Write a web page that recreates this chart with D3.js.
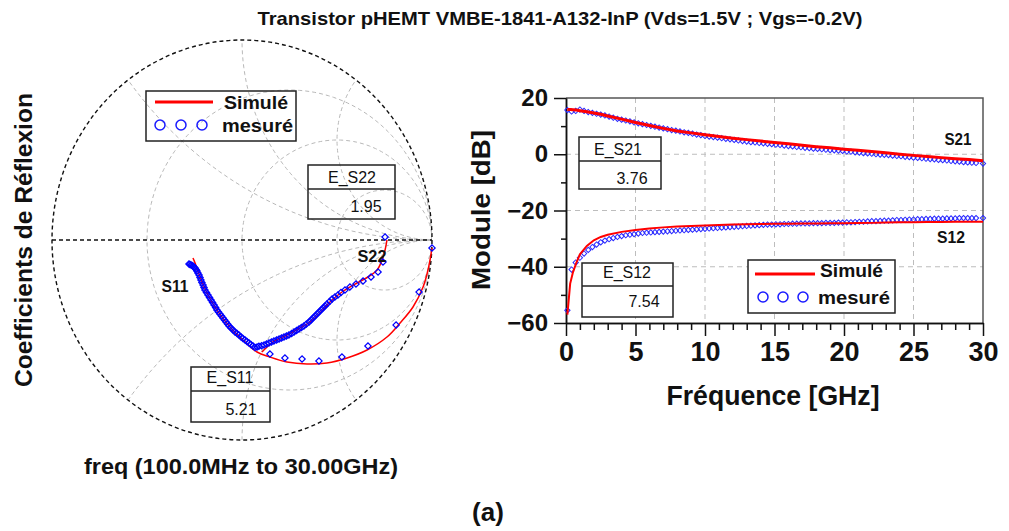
<!DOCTYPE html>
<html>
<head>
<meta charset="utf-8">
<script src="https://cdn.jsdelivr.net/npm/d3@7"></script>
<style>
  body { margin: 0; background: #fff; }
  text { font-family: "Liberation Sans", Arial, sans-serif; fill: #111; }
</style>
</head>
<body>
<svg id="chart" width="1009" height="531"></svg>
<script>
// ---------- data ----------
// Smith chart, reflection coefficients as [real, imag]
var s11Sim = [[1.0,-0.04],[0.979,-0.15],[0.953,-0.235],[0.9,-0.335],[0.832,-0.415],[0.763,-0.485],
  [0.658,-0.55],[0.553,-0.59],[0.447,-0.615],[0.342,-0.62],[0.237,-0.61],[0.147,-0.585],[0.079,-0.56],
  [0.005,-0.5],[-0.063,-0.435],[-0.132,-0.35],[-0.184,-0.265],[-0.221,-0.185],[-0.247,-0.115],[-0.258,-0.09]];
var s11Meas = [[1.0,-0.04],[0.932,-0.26],[0.811,-0.425],[0.663,-0.53],[0.526,-0.585],[0.405,-0.605],
  [0.316,-0.595],[0.226,-0.59],[0.147,-0.57],[0.058,-0.53],[0.047,-0.5225],[0.037,-0.515],[0.026,-0.5075],
  [0.016,-0.5],[0.005,-0.4925],[-0.005,-0.485],[-0.016,-0.475],[-0.026,-0.4675],[-0.037,-0.46],
  [-0.047,-0.45],[-0.058,-0.44],[-0.068,-0.43],[-0.076,-0.42],[-0.084,-0.41],[-0.092,-0.4],[-0.1,-0.39],
  [-0.108,-0.38],[-0.116,-0.37],[-0.124,-0.36],[-0.132,-0.35],[-0.139,-0.3375],[-0.147,-0.325],
  [-0.155,-0.3125],[-0.163,-0.3],[-0.171,-0.2875],[-0.179,-0.275],[-0.187,-0.2625],[-0.195,-0.25],
  [-0.2,-0.2375],[-0.205,-0.225],[-0.211,-0.2125],[-0.216,-0.2],[-0.221,-0.1875],[-0.226,-0.175],
  [-0.232,-0.165],[-0.237,-0.155],[-0.242,-0.1475],[-0.247,-0.14],[-0.253,-0.135],[-0.258,-0.13],
  [-0.263,-0.1275],[-0.268,-0.125],[-0.274,-0.1225],[-0.279,-0.12]];
var s22Sim = [[0.763,0.0],[0.753,-0.05],[0.737,-0.1],[0.711,-0.15],[0.663,-0.185],[0.605,-0.215],
  [0.526,-0.26],[0.463,-0.31],[0.411,-0.365],[0.358,-0.41],[0.305,-0.44],[0.237,-0.475],[0.163,-0.51],
  [0.132,-0.535],[0.105,-0.56]];
var s22Meas = [[0.753,0.015],[0.742,-0.11],[0.716,-0.16],[0.679,-0.185],[0.637,-0.205],[0.6,-0.22],
  [0.568,-0.235],[0.542,-0.25],[0.521,-0.2625],[0.505,-0.275],[0.489,-0.285],[0.474,-0.295],
  [0.461,-0.3075],[0.447,-0.32],[0.437,-0.33],[0.426,-0.34],[0.416,-0.35],[0.405,-0.36],[0.395,-0.37],
  [0.384,-0.38],[0.374,-0.39],[0.363,-0.4],[0.353,-0.41],[0.339,-0.42],[0.326,-0.43],[0.313,-0.4375],
  [0.3,-0.445],[0.287,-0.4525],[0.274,-0.46],[0.261,-0.4675],[0.247,-0.475],[0.234,-0.48],[0.221,-0.485],
  [0.208,-0.49],[0.195,-0.495],[0.182,-0.5],[0.168,-0.505],[0.155,-0.51],[0.142,-0.515],[0.129,-0.52],
  [0.116,-0.525],[0.103,-0.5285],[0.089,-0.5315],[0.079,-0.535],[0.068,-0.5375]];
var smithR = [1/3, 1, 3];
var smithX = [0.5, 1, 2, -0.5, -1, -2];

// module plot (GHz, dB)
var freqMeas = [0.1,0.4,0.7,1.0,1.3,1.6,1.9,2.2,2.5,2.8,3.1,3.4,3.7,4.0,4.3,4.6,4.9,5.2,5.5,5.8,
  6.1,6.4,6.7,7.0,7.3,7.6,7.9,8.2,8.5,8.8,9.1,9.4,9.7,10.0,10.3,10.6,10.9,11.2,11.5,11.8,
  12.1,12.4,12.7,13.0,13.3,13.6,13.9,14.2,14.5,14.8,15.1,15.4,15.7,16.0,16.3,16.6,16.9,17.2,17.5,17.8,
  18.1,18.4,18.7,19.0,19.3,19.6,19.9,20.2,20.5,20.8,21.1,21.4,21.7,22.0,22.3,22.6,22.9,23.2,23.5,23.8,
  24.1,24.4,24.7,25.0,25.3,25.6,25.9,26.2,26.5,26.8,27.1,27.4,27.7,28.0,28.3,28.6,28.9,29.2,29.5,30.0];
var s21Meas = [15.7,15.2,15.4,15.9,15.4,15.0,14.7,14.4,14.1,13.8,
  13.4,13.0,12.6,12.3,12.0,11.7,11.3,11.0,10.7,10.4,
  10.1,9.8,9.5,9.2,8.9,8.6,8.4,8.1,7.8,7.6,
  7.3,7.0,6.8,6.5,6.3,6.1,5.9,5.7,5.5,5.3,
  5.1,4.9,4.7,4.5,4.3,4.2,4.0,3.9,3.7,3.6,
  3.4,3.3,3.1,2.9,2.8,2.6,2.5,2.3,2.2,2.0,
  1.9,1.8,1.6,1.5,1.4,1.3,1.2,1.0,0.9,0.7,
  0.6,0.4,0.3,0.2,0.0,-0.1,-0.2,-0.3,-0.5,-0.6,
  -0.7,-0.9,-1.0,-1.2,-1.3,-1.4,-1.6,-1.7,-1.8,-2.0,
  -2.1,-2.2,-2.4,-2.5,-2.6,-2.8,-2.9,-3.0,-3.1,-3.3];
var s12Meas = [-55.5,-41.0,-38.5,-36.8,-35.3,-34.0,-33.0,-32.1,-31.3,-30.7,
  -30.2,-29.8,-29.4,-29.1,-28.8,-28.6,-28.4,-28.2,-28.0,-27.9,
  -27.8,-27.7,-27.6,-27.5,-27.4,-27.3,-27.2,-27.1,-27.0,-26.9,
  -26.8,-26.7,-26.6,-26.5,-26.4,-26.3,-26.2,-26.1,-26.0,-25.9,
  -25.8,-25.7,-25.6,-25.5,-25.4,-25.3,-25.2,-25.1,-25.0,-25.0,
  -24.9,-24.9,-24.8,-24.8,-24.7,-24.7,-24.6,-24.6,-24.6,-24.5,
  -24.5,-24.5,-24.4,-24.4,-24.4,-24.3,-24.3,-24.2,-24.2,-24.1,
  -24.0,-24.0,-23.9,-23.8,-23.8,-23.7,-23.6,-23.6,-23.5,-23.4,
  -23.4,-23.3,-23.2,-23.2,-23.1,-23.1,-23.0,-23.0,-22.9,-22.9,
  -22.9,-22.8,-22.8,-22.8,-22.7,-22.7,-22.7,-22.7,-22.7,-22.7];
var freqSim = [0.1,0.3,0.5,0.75,1,1.5,2,2.5,3,4,5,6,7,8,9,10,11,12,13,14,15,16,17,18,19,20,21,22,23,24,25,26,27,28,29,30];
var s21Sim = [15.9,15.9,15.8,15.7,15.5,15.1,14.7,14.2,13.6,12.5,11.3,10.2,9.2,8.3,7.6,6.9,
  6.3,5.7,5.2,4.7,4.2,3.7,3.2,2.7,2.3,1.8,1.4,1.0,0.5,0.0,-0.4,-0.8,-1.2,-1.6,-1.9,-2.3];
var s12Sim = [-57,-46,-42,-38.5,-35.6,-32.6,-30.6,-29.4,-28.6,-27.6,-26.9,-26.4,-26.0,-25.7,-25.5,-25.3,
  -25.15,-25.0,-24.9,-24.8,-24.75,-24.7,-24.65,-24.6,-24.55,-24.5,-24.45,-24.4,-24.3,-24.2,-24.15,
  -24.1,-24.05,-24.0,-24.0,-24.0];
var xTicks = [0,5,10,15,20,25,30];
var yTicks = [20,0,-20,-40,-60];

var svg = d3.select("#chart");

function label(g, txt, x, y, size, opts) {
  opts = opts || {};
  var t = g.append("text")
    .attr("x", x).attr("y", y)
    .attr("font-size", size)
    .attr("font-weight", opts.weight || "bold")
    .attr("text-anchor", opts.anchor || "middle")
    .text(txt);
  if (opts.len) t.attr("textLength", opts.len).attr("lengthAdjust", "spacingAndGlyphs");
  if (opts.rotate) t.attr("transform", "rotate(-90," + x + "," + y + ")");
  return t;
}

var diamond = d3.symbol().type(d3.symbolSquare);

// ---------- Smith chart ----------
var sx = d3.scaleLinear().domain([-1, 1]).range([52, 432]);
var sy = d3.scaleLinear().domain([-1, 1]).range([440, 40]);
var smithLine = d3.line().x(function(d) { return sx(d[0]); }).y(function(d) { return sy(d[1]); });

function circlePts(cu, cv, rad) {
  return d3.range(0, 361, 2).map(function(a) {
    var t = a * Math.PI / 180;
    return [cu + rad * Math.cos(t), cv + rad * Math.sin(t)];
  });
}

svg.append("clipPath").attr("id", "unit")
  .append("ellipse")
    .attr("cx", sx(0)).attr("cy", sy(0))
    .attr("rx", sx(1) - sx(0)).attr("ry", sy(-1) - sy(0));

var smith = svg.append("g");
var grid = smith.append("g").attr("clip-path", "url(#unit)")
  .attr("fill", "none").attr("stroke", "#b8b8b8").attr("stroke-width", 1).attr("stroke-dasharray", "4,3");

// constant resistance circles and constant reactance arcs
smithR.forEach(function(r) {
  grid.append("path").attr("d", smithLine(circlePts(r / (r + 1), 0, 1 / (r + 1))));
});
smithX.forEach(function(xv) {
  grid.append("path").attr("d", smithLine(circlePts(1, 1 / xv, Math.abs(1 / xv))));
});

smith.append("ellipse")
  .attr("cx", sx(0)).attr("cy", sy(0))
  .attr("rx", sx(1) - sx(0)).attr("ry", sy(-1) - sy(0))
  .attr("fill", "none").attr("stroke", "#111").attr("stroke-width", 1.4).attr("stroke-dasharray", "4,3");
smith.append("line")
  .attr("x1", sx(-1)).attr("x2", sx(1)).attr("y1", sy(0)).attr("y2", sy(0))
  .attr("stroke", "#111").attr("stroke-width", 1.4).attr("stroke-dasharray", "4,3");

[s11Sim, s22Sim].forEach(function(s) {
  smith.append("path").attr("d", d3.line().curve(d3.curveCatmullRom)
      .x(function(d) { return sx(d[0]); }).y(function(d) { return sy(d[1]); })(s))
    .attr("fill", "none").attr("stroke", "#f00").attr("stroke-width", 1.5);
});
[s11Meas, s22Meas].forEach(function(s) {
  smith.append("g").selectAll("path").data(s).enter().append("path")
    .attr("d", diamond.size(20)())
    .attr("transform", function(d) { return "translate(" + sx(d[0]) + "," + sy(d[1]) + ") rotate(45)"; })
    .attr("fill", "none").attr("stroke", "#0000ff").attr("stroke-width", 1.2);
});

// legend (left)
smith.append("rect").attr("x", 146).attr("y", 91).attr("width", 150).attr("height", 50)
  .attr("fill", "none").attr("stroke", "#222").attr("stroke-width", 1.5);
smith.append("line").attr("x1", 155).attr("x2", 213).attr("y1", 102).attr("y2", 102)
  .attr("stroke", "#f00").attr("stroke-width", 3);
[160, 181, 202].forEach(function(cx) {
  smith.append("circle").attr("cx", cx).attr("cy", 125).attr("r", 5)
    .attr("fill", "none").attr("stroke", "#1a1aff").attr("stroke-width", 1.5);
});
label(smith, "Simulé", 224, 109, 18, {anchor: "start", len: 64});
label(smith, "mesuré", 222, 132, 18, {anchor: "start", len: 71});

// error boxes
function errBox(g, x, y, w, h, mid, name, val, nameX, nameY, valX, valY, fill) {
  g.append("rect").attr("x", x).attr("y", y).attr("width", w).attr("height", h)
    .attr("fill", fill).attr("stroke", "#222").attr("stroke-width", 1.5);
  g.append("line").attr("x1", x).attr("x2", x + w).attr("y1", mid).attr("y2", mid)
    .attr("stroke", "#222").attr("stroke-width", 1.5);
  label(g, name, nameX, nameY, 16, {weight: "normal"});
  label(g, val, valX, valY, 16, {weight: "normal"});
}
errBox(smith, 308, 165, 87, 54, 189, "E_S22", "1.95", 352, 183, 366, 212, "none");
errBox(smith, 191, 367, 79, 55, 391, "E_S11", "5.21", 230, 383, 241, 415, "none");

label(smith, "S11", 175, 292, 17, {len: 27});
label(smith, "S22", 372, 262, 17, {len: 29});

label(svg, "Coefficients de Réflexion", 32, 240, 23, {rotate: true, len: 294});
label(svg, "freq (100.0MHz to 30.00GHz)", 241, 474, 22, {len: 314});

// ---------- module plot ----------
var x = d3.scaleLinear().domain([0, 30]).range([566, 983]);
var y = d3.scaleLinear().domain([-60, 20]).range([323, 98]);
var plot = svg.append("g");

var gridG = plot.append("g").attr("stroke", "#bdbdbd").attr("stroke-width", 1).attr("stroke-dasharray", "5,4");
xTicks.slice(1, -1).forEach(function(v) {
  gridG.append("line").attr("x1", x(v)).attr("x2", x(v)).attr("y1", y(20)).attr("y2", y(-60));
});
yTicks.slice(1, -1).forEach(function(v) {
  gridG.append("line").attr("x1", x(0)).attr("x2", x(30)).attr("y1", y(v)).attr("y2", y(v));
});

// frame top/right
plot.append("path")
  .attr("d", "M" + x(0) + "," + y(20) + "H" + x(30) + "V" + y(-60))
  .attr("fill", "none").attr("stroke", "#555").attr("stroke-width", 1.5);

var minorX = d3.range(0, 31).filter(function(v) { return v % 5 !== 0; });
var xAxis = plot.append("g").attr("transform", "translate(0," + y(-60) + ")")
  .call(d3.axisBottom(x).tickValues(xTicks).tickSize(13).tickSizeOuter(0).tickPadding(6));
plot.append("g").attr("transform", "translate(0," + y(-60) + ")")
  .call(d3.axisBottom(x).tickValues(minorX).tickSize(7).tickSizeOuter(0).tickFormat(""));
var yAxis = plot.append("g").attr("transform", "translate(" + x(0) + ",0)")
  .call(d3.axisLeft(y).tickValues(yTicks).tickSize(12).tickSizeOuter(0).tickPadding(6));
plot.append("g").attr("transform", "translate(" + x(0) + ",0)")
  .call(d3.axisLeft(y).tickValues([10, -10, -30, -50]).tickSize(5).tickSizeOuter(0).tickFormat(""));

plot.selectAll(".domain, .tick line").attr("stroke", "#111").attr("stroke-width", 1.5);
xAxis.selectAll("text").attr("font-size", 27).attr("font-weight", "bold").attr("fill", "#111")
  .style("font-family", "'Liberation Sans', Arial, sans-serif");
yAxis.selectAll("text").attr("font-size", 24).attr("font-weight", "bold").attr("fill", "#111")
  .style("font-family", "'Liberation Sans', Arial, sans-serif");

// measured markers
[s21Meas, s12Meas].forEach(function(s) {
  plot.append("g").selectAll("path").data(s).enter().append("path")
    .attr("d", diamond.size(14)())
    .attr("transform", function(d, i) { return "translate(" + x(freqMeas[i]) + "," + y(d) + ") rotate(45)"; })
    .attr("fill", "none").attr("stroke", "#2a2aff").attr("stroke-width", 1);
});
// simulated lines
var simLine = d3.line().x(function(d, i) { return x(freqSim[i]); }).y(function(d) { return y(d); });
plot.append("path").attr("d", simLine(s21Sim)).attr("fill", "none").attr("stroke", "#f00").attr("stroke-width", 3);
plot.append("path").attr("d", simLine(s12Sim)).attr("fill", "none").attr("stroke", "#f00").attr("stroke-width", 2);

label(plot, "S21", 958, 145, 17, {len: 27});
label(plot, "S12", 951, 243, 17, {len: 28});

errBox(plot, 579, 137, 82, 52, 161, "E_S21", "3.76", 618, 155, 632, 184, "#fff");
errBox(plot, 582, 263, 91, 54, 286, "E_S12", "7.54", 627, 278, 644, 307, "#fff");

// legend (right)
plot.append("rect").attr("x", 748).attr("y", 260).attr("width", 147).attr("height", 53)
  .attr("fill", "#fff").attr("stroke", "#222").attr("stroke-width", 1.5);
plot.append("line").attr("x1", 755).attr("x2", 815).attr("y1", 274).attr("y2", 274)
  .attr("stroke", "#f00").attr("stroke-width", 3);
[763, 783, 803].forEach(function(cx) {
  plot.append("circle").attr("cx", cx).attr("cy", 297).attr("r", 5)
    .attr("fill", "none").attr("stroke", "#1a1aff").attr("stroke-width", 1.5);
});
label(plot, "Simulé", 820, 277, 18, {anchor: "start", len: 63});
label(plot, "mesuré", 818, 304, 18, {anchor: "start", len: 72});

label(svg, "Module [dB]", 490, 210, 26, {rotate: true, len: 160});
label(svg, "Fréquence [GHz]", 773, 405, 27, {len: 213});

// ---------- titles ----------
label(svg, "Transistor pHEMT VMBE-1841-A132-InP (Vds=1.5V ; Vgs=-0.2V)", 560, 25, 19, {len: 605});
label(svg, "(a)", 488, 521, 26);
</script>
</body>
</html>
